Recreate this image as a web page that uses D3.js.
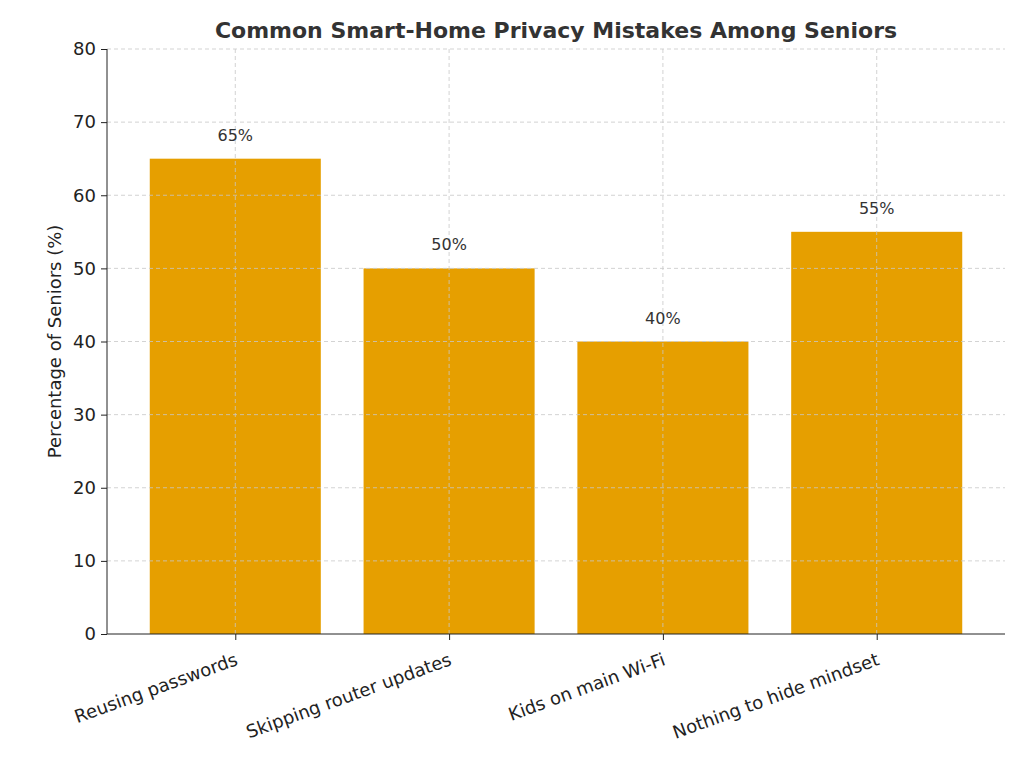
<!DOCTYPE html>
<html><head><meta charset="utf-8">
<script src="https://cdn.jsdelivr.net/npm/d3@7"></script>
<style>body{margin:0;background:#fff}svg{font-family:"DejaVu Sans",sans-serif}</style>
</head><body><svg id="c" width="1024" height="768"></svg>
<script>
const categories = ["Reusing passwords","Skipping router updates","Kids on main Wi-Fi","Nothing to hide mindset"];
const values = [65,50,40,55];
const yTicks = [0,10,20,30,40,50,60,70,80];

const svg = d3.select("#c");
const L=107,R=1005,T=49,B=634;
const x = d3.scaleLinear().domain([-0.6,3.6]).range([L,R]);
const y = d3.scaleLinear().domain([0,80]).range([B,T]);
const bw = x(0.4)-x(0);

svg.append("g").selectAll("rect").data(values).join("rect")
  .attr("x",(d,i)=>x(i-0.4)).attr("width",bw*2)
  .attr("y",d=>y(d)).attr("height",d=>B-y(d)).attr("fill","#E69F00");

const grid = svg.append("g").attr("stroke","#c8c8c8").attr("stroke-dasharray","4,3").attr("stroke-width",0.8);
yTicks.slice(1).forEach(t=>grid.append("line").attr("x1",L).attr("x2",R).attr("y1",y(t)).attr("y2",y(t)));
categories.forEach((c,i)=>grid.append("line").attr("x1",x(i)).attr("x2",x(i)).attr("y1",T).attr("y2",B));

svg.append("g").selectAll("text").data(values).join("text")
  .attr("x",(d,i)=>x(i)).attr("y",d=>y(d)-18).attr("text-anchor","middle")
  .attr("font-size",16).attr("fill","#333").text(d=>d+"%");

const ya = svg.append("g").attr("transform",`translate(${L},0)`)
  .call(d3.axisLeft(y).tickValues(yTicks).tickSize(6).tickPadding(5));
ya.selectAll("text").attr("font-size",18).attr("fill","#222").attr("font-family","DejaVu Sans");
ya.selectAll("line").attr("stroke","#222");
ya.select(".domain").attr("stroke","#222").attr("d",`M0,${B}V${T}`);

const xa = svg.append("g").attr("transform",`translate(0,${B})`)
  .call(d3.axisBottom(x).tickValues([0,1,2,3]).tickFormat(i=>categories[i]).tickSize(6));
xa.select(".domain").attr("stroke","#222").attr("d",`M${L},0H${R}`);
xa.selectAll("line").attr("stroke","#222");
xa.selectAll("text").attr("font-size",18).attr("fill","#222").attr("font-family","DejaVu Sans")
  .attr("text-anchor","end").attr("dy",0).attr("transform","translate(0,22) rotate(-20)");

svg.append("text").attr("transform",`translate(61,${(T+B)/2}) rotate(-90)`).attr("text-anchor","middle")
  .attr("font-size",18).attr("fill","#222").text("Percentage of Seniors (%)");
svg.append("text").attr("x",556).attr("y",38).attr("text-anchor","middle")
  .attr("font-size",22).attr("font-weight","bold").attr("fill","#333").text("Common Smart-Home Privacy Mistakes Among Seniors");
</script></body></html>
